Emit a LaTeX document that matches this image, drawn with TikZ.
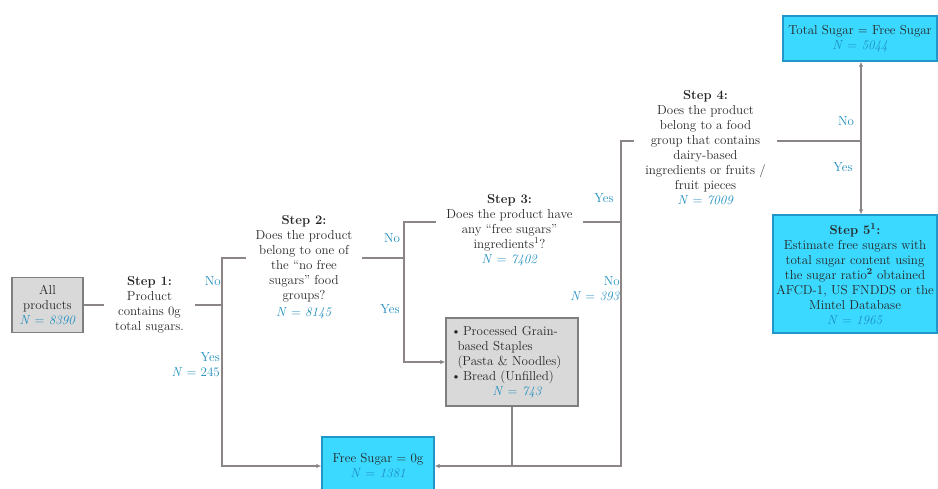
\documentclass[tikz,border=0pt]{standalone}
\usepackage{amsmath}
\usepackage{tikz}
\usetikzlibrary{arrows.meta}

\definecolor{nblue}{HTML}{1C8DBE}
\definecolor{cyanbox}{HTML}{3BD9FF}
\definecolor{cyanline}{HTML}{2196C8}
\definecolor{greybox}{HTML}{D9D9D9}
\definecolor{greyline}{HTML}{7F7F7F}
\definecolor{linkcol}{HTML}{8C8585}
\definecolor{textcol}{HTML}{262626}

\newcommand{\Nval}[1]{\textcolor{nblue}{\textit{N} = \textit{#1}}}

\tikzset{
  every node/.style={font=\fontsize{13}{15}\selectfont,text=textcol},
  stepnode/.style={align=center,inner sep=0pt},
  greyfield/.style={draw=greyline,fill=greybox,line width=1.3pt,inner sep=0pt},
  cyanfield/.style={draw=cyanline,fill=cyanbox,line width=1.3pt,inner sep=0pt,align=center},
  lab/.style={text=nblue,inner sep=0pt,align=right},
  link/.style={draw=linkcol,line width=1.1pt},
  arrow/.style={link,-{Latex[length=5pt,width=4.5pt]}}
}

\begin{document}
\begin{tikzpicture}[x=1pt,y=-1pt]
\useasboundingbox (0,0) rectangle (938,488);

% junctions
\coordinate (j1) at (222,305);
\coordinate (j2) at (404,258);
\coordinate (j3) at (621,222);
\coordinate (j4) at (861,141);

% boxes
\node[greyfield,minimum width=71pt,minimum height=55pt,align=center] (all) at (47.5,305)
  {All\\products\\\Nval{8390}};
\node[greyfield,minimum width=132pt,minimum height=88pt,text width=122pt,align=left] (grain) at (512,362)
  {\textbullet\,Processed Grain-\\\hspace*{0.5em}based Staples\\\hspace*{0.5em}(Pasta \& Noodles)\\
   \textbullet\,Bread (Unfilled)\\\hspace*{3.2em}\Nval{743}};
\node[cyanfield,minimum width=112pt,minimum height=58pt] (zero) at (378,466)
  {Free Sugar = 0g\\\Nval{1381}};
\node[cyanfield,minimum width=154pt,minimum height=45pt] (tot) at (860,38.5)
  {Total Sugar = Free Sugar\\\Nval{5044}};
\node[cyanfield,minimum width=164pt,minimum height=118pt] (s5) at (855,274)
  {\textbf{Step 5\textsuperscript{1}:}\\Estimate free sugars with\\total sugar content using\\
   the sugar ratio\textsuperscript{\textbf{2}} obtained\\AFCD-1, US FNDDS or the\\Mintel Database\\\Nval{1965}};

% questions
\node[stepnode,minimum width=91pt] (s1) at (149.5,305)
  {\textbf{Step 1:}\\Product\\contains 0g\\total sugars.};
\node[stepnode,minimum width=116pt] (s2) at (304,267)
  {\textbf{Step 2:}\\Does the product\\belong to one of\\the ``no free\\sugars'' food\\groups?\\[2pt]\Nval{8145}};
\node[stepnode,minimum width=147pt] (s3) at (509.5,230)
  {\textbf{Step 3:}\\Does the product have\\any ``free sugars''\\ingredients\textsuperscript{1}?\\\Nval{7402}};
\node[stepnode,minimum width=143pt] (s4) at (705.5,148)
  {\textbf{Step 4:}\\Does the product\\belong to a food\\group that contains\\dairy-based\\ingredients or fruits /\\fruit pieces\\\Nval{7009}};

% connectors
\draw[link] (all) -- (s1);
\draw[link] (s1) -- (j1) |- (s2.west |- j2);
\draw[link] (s2.east |- j2) -- (j2) |- (s3.west |- j3);
\draw[link] (s3.east |- j3) -- (j3) |- (s4.west |- j4);
\draw[link] (s4.east |- j4) -- (j4);
\draw[arrow] (j4) -- (j4 |- tot.south);
\draw[arrow] (j4) -- (j4 |- s5.north);
\draw[arrow] (j1) |- (zero);
\draw[arrow] (j2) |- (grain);
\draw[arrow] (j3) |- (zero);
\draw[link] (grain) -- (grain |- zero);

% branch labels
\node[lab,anchor=east] (no1) at (221,281) {No};
\node[lab,anchor=east] (yes1) at (220,365) {Yes\\\textit{N} = 245};
\node[lab] (no2) at (392,238) {No};
\node[lab] (yes2) at (390,309) {Yes};
\node[lab] (yes3) at (604,198) {Yes};
\node[lab,anchor=east] (no3) at (620,289) {No\\\textit{N} = \textit{393}};
\node[lab] (no4) at (846,121) {No};
\node[lab] (yes4) at (843,167) {Yes};
\end{tikzpicture}
\end{document}
